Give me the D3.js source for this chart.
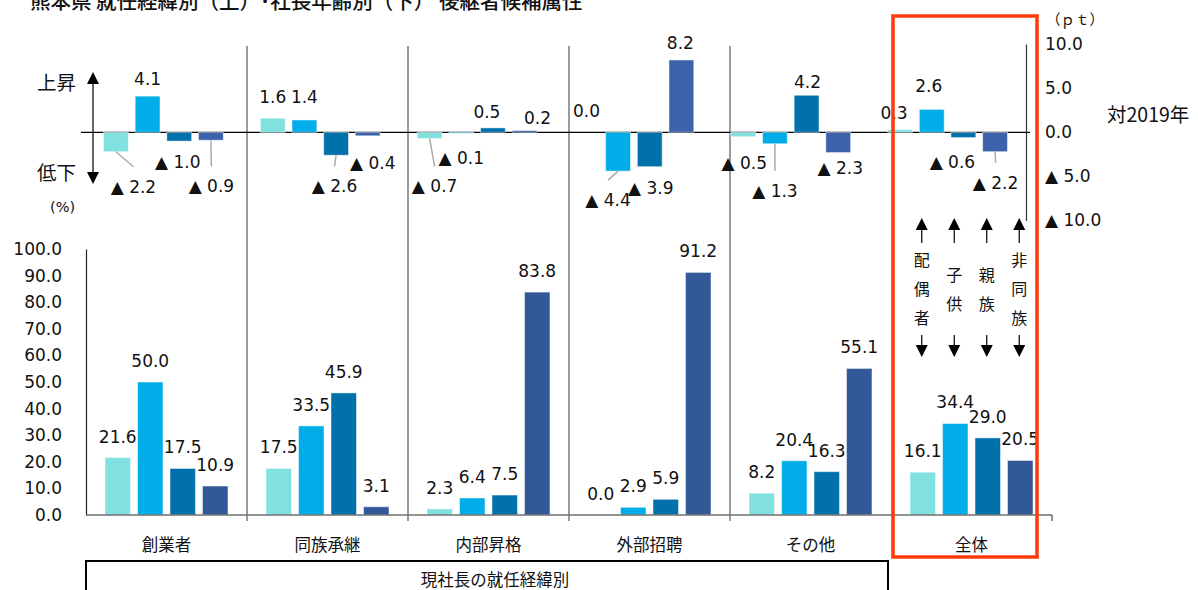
<!DOCTYPE html>
<html>
  <head>
    <meta charset="utf-8">
    <script type="text/javascript" src="https://d3js.org/d3.v7.min.js"></script>
  </head>
  <style>
    body { margin: 0; background: #fff; }
    svg { display: block; }
    text { font-family: "DejaVu Sans", "Noto Sans CJK JP", sans-serif; fill: #111; }
    .jp { font-family: "Noto Sans CJK JP", sans-serif; }
  </style>
  <body>
    <script type="text/javascript">
        var width = 1198,
            height = 590;

        // categories / series
        var categories = ["創業者", "同族承継", "内部昇格", "外部招聘", "その他", "全体"];
        var series = ["配偶者", "子供", "親族", "非同族"];

        // lower chart: share of successor candidates (%)
        var shareValues = [
            [21.6, 50.0, 17.5, 10.9],
            [17.5, 33.5, 45.9, 3.1],
            [2.3, 6.4, 7.5, 83.8],
            [0.0, 2.9, 5.9, 91.2],
            [8.2, 20.4, 16.3, 55.1],
            [16.1, 34.4, 29.0, 20.5]
        ];

        // upper chart: change vs 2019 (pt)
        var changeValues = [
            [-2.2, 4.1, -1.0, -0.9],
            [1.6, 1.4, -2.6, -0.4],
            [-0.7, -0.1, 0.5, 0.2],
            [0.0, -4.4, -3.9, 8.2],
            [-0.5, -1.3, 4.2, -2.3],
            [0.3, 2.6, -0.6, -2.2]
        ];

        var shareTicks = [0, 10, 20, 30, 40, 50, 60, 70, 80, 90, 100];
        var changeTicks = [10, 5, 0, -5, -10];

        // hand placement of the upper labels (dx, dy), like the original
        var changeLabelNudge = [
            [[17.5, 17], [0, 0], [-1.5, 3], [0.5, 28]],
            [[0, -4], [0, -6], [-1.5, 13], [5, 9]],
            [[5, 30], [0, 7], [-6, 1], [13, 4]],
            [[0, -4], [-10, 11], [1, 3], [-1, 0]],
            [[1, 8], [0, 29], [1, 4], [2, -3]],
            [[-6, 0], [-3, -6], [-11, 6], [0.5, 13]]
        ];

        var colorLo = d3.scaleOrdinal().domain(series).range(["#80E1DF", "#00ADE9", "#0071AB", "#325898"]);
        var colorUp = d3.scaleOrdinal().domain(series).range(["#80E1DF", "#00ADE9", "#0071AB", "#3D62AB"]);

        var fmt = d3.format(".1f");
        function ptFmt(v) {
            return v < 0 ? "▲ " + fmt(-v) : fmt(v);
        }

        var svg = d3.select("body").append("svg")
                    .attr("width", width)
                    .attr("height", height);

        // scales
        var xLo = d3.scaleBand().domain(categories).range([86, 1052]);
        var xUp = d3.scaleBand().domain(categories).range([85, 1026]);
        var xInLo = d3.scaleBand().domain(series).range([0, xLo.bandwidth()]).paddingInner(0.215).paddingOuter(0.585);
        var xInUp = d3.scaleBand().domain(series).range([0, xUp.bandwidth()]).paddingInner(0.215).paddingOuter(0.585);
        var yLo = d3.scaleLinear().domain([0, 100]).range([515, 249]);
        var yUp = d3.scaleLinear().domain([-10, 10]).range([220.5, 44.1]);

        // title (cut at the top, as in the picture)
        svg.append("text")
            .attr("class", "jp")
            .attr("x", 30)
            .attr("y", 9)
            .attr("font-size", 20.5)
            .attr("font-weight", 500)
            .attr("fill", "#222")
            .text("熊本県  就任経緯別（上）･社長年齢別（下） 後継者候補属性");

        // separators between categories
        svg.append("g")
            .selectAll("line")
            .data(categories.slice(1, 5))
            .enter()
            .append("line")
            .attr("x1", function(d) { return xLo(d); })
            .attr("x2", function(d) { return xLo(d); })
            .attr("y1", 46)
            .attr("y2", 521)
            .attr("stroke", "#7a7a7a")
            .attr("stroke-width", 1.5);

        // ---------- upper chart ----------
        svg.append("line")
            .attr("x1", 81).attr("x2", 1030)
            .attr("y1", yUp(0)).attr("y2", yUp(0))
            .attr("stroke", "#000").attr("stroke-width", 1.2);

        var upCells = [];
        changeValues.forEach(function(row, i) {
            row.forEach(function(v, j) {
                upCells.push({cat: categories[i], ser: series[j], v: v, nudge: changeLabelNudge[i][j]});
            });
        });

        var upBars = svg.append("g");
        upBars.selectAll("rect")
            .data(upCells)
            .enter()
            .append("rect")
            .attr("x", function(d) { return xUp(d.cat) + xInUp(d.ser); })
            .attr("width", xInUp.bandwidth())
            .attr("y", function(d) { return yUp(Math.max(0, d.v)); })
            .attr("height", function(d) { return Math.abs(yUp(d.v) - yUp(0)); })
            .attr("fill", function(d) { return colorUp(d.ser); })
            .attr("stroke", "#fff")
            .attr("stroke-opacity", 0.5);

        function upLabelPos(d) {
            var cx = xUp(d.cat) + xInUp(d.ser) + xInUp.bandwidth() / 2;
            var cy = d.v >= 0 ? yUp(d.v) - 17 : yUp(d.v) + 18;
            return [cx + d.nudge[0], cy + d.nudge[1]];
        }

        // leader lines
        upBars.selectAll("line")
            .data(upCells.filter(function(d) { return d.v < 0 && d.nudge[1] > 10; }))
            .enter()
            .append("line")
            .attr("x1", function(d) { return xUp(d.cat) + xInUp(d.ser) + xInUp.bandwidth() / 2; })
            .attr("y1", function(d) { return yUp(d.v); })
            .attr("x2", function(d) { return upLabelPos(d)[0]; })
            .attr("y2", function(d) { return upLabelPos(d)[1] - 20; })
            .attr("stroke", "#aaa")
            .attr("stroke-width", 1.5);

        upBars.selectAll("text")
            .data(upCells)
            .enter()
            .append("text")
            .attr("x", function(d) { return upLabelPos(d)[0]; })
            .attr("y", function(d) { return upLabelPos(d)[1] + 6; })
            .attr("text-anchor", "middle")
            .attr("font-size", 17)
            .text(function(d) { return ptFmt(d.v); });

        // right axis of the upper chart
        var axisUp = svg.append("g")
            .attr("transform", "translate(1026,0)")
            .call(d3.axisRight(yUp).tickValues(changeTicks).tickSize(0).tickPadding(19).tickFormat(ptFmt));
        axisUp.select(".domain").attr("stroke", "#333").attr("stroke-width", 1.2);
        axisUp.selectAll("text")
            .attr("font-family", "DejaVu Sans")
            .attr("font-size", 17)
            .attr("fill", "#111");

        svg.append("text")
            .attr("class", "jp")
            .attr("x", 1046).attr("y", 25)
            .attr("font-size", 14.5)
            .text("（ｐｔ）");

        svg.append("text")
            .attr("class", "jp")
            .attr("x", 1107).attr("y", 122)
            .attr("font-size", 19.5)
            .text("対2019年");

        // left up/down arrow
        var arr = svg.append("g").attr("fill", "#000").attr("stroke", "#000");
        arr.append("line").attr("x1", 93).attr("x2", 93).attr("y1", 80).attr("y2", 176).attr("stroke-width", 1.2);
        arr.append("path").attr("d", "M93,72 L99,84 L87,84 Z").attr("stroke", "none");
        arr.append("path").attr("d", "M93,184 L99,172 L87,172 Z").attr("stroke", "none");

        svg.append("text").attr("class", "jp").attr("x", 37).attr("y", 90).attr("font-size", 19.5).text("上昇");
        svg.append("text").attr("class", "jp").attr("x", 37).attr("y", 180).attr("font-size", 19.5).text("低下");
        svg.append("text").attr("x", 50).attr("y", 212).attr("font-size", 14.5).text("(%)");

        // ---------- lower chart ----------
        var loCells = [];
        shareValues.forEach(function(row, i) {
            row.forEach(function(v, j) {
                loCells.push({cat: categories[i], ser: series[j], v: v});
            });
        });

        var loBars = svg.append("g");
        loBars.selectAll("rect")
            .data(loCells)
            .enter()
            .append("rect")
            .attr("x", function(d) { return xLo(d.cat) + xInLo(d.ser); })
            .attr("width", xInLo.bandwidth())
            .attr("y", function(d) { return yLo(d.v); })
            .attr("height", function(d) { return yLo(0) - yLo(d.v); })
            .attr("fill", function(d) { return colorLo(d.ser); })
            .attr("stroke", "#fff")
            .attr("stroke-opacity", 0.5);

        loBars.selectAll("text")
            .data(loCells)
            .enter()
            .append("text")
            .attr("x", function(d) { return xLo(d.cat) + xInLo(d.ser) + xInLo.bandwidth() / 2; })
            .attr("y", function(d) { return yLo(d.v) - 15; })
            .attr("text-anchor", "middle")
            .attr("font-size", 17)
            .text(function(d) { return fmt(d.v); });

        // left axis
        var axisLo = svg.append("g")
            .attr("transform", "translate(86,0)")
            .call(d3.axisLeft(yLo).tickValues(shareTicks).tickSize(0).tickPadding(24).tickFormat(fmt));
        axisLo.select(".domain").attr("stroke", "#222").attr("stroke-width", 1.2);
        axisLo.selectAll("text")
            .attr("font-family", "DejaVu Sans")
            .attr("font-size", 17)
            .attr("fill", "#111");

        // baseline + category labels
        svg.append("line")
            .attr("x1", 86).attr("x2", 1052)
            .attr("y1", yLo(0)).attr("y2", yLo(0))
            .attr("stroke", "#6f6f6f").attr("stroke-width", 1.5);
        svg.append("line")
            .attr("x1", 1052).attr("x2", 1052)
            .attr("y1", yLo(0)).attr("y2", 521)
            .attr("stroke", "#6f6f6f").attr("stroke-width", 1.5);

        var axisCat = svg.append("g")
            .attr("transform", "translate(0," + yLo(0) + ")")
            .call(d3.axisBottom(xLo).tickSize(0).tickPadding(24));
        axisCat.select(".domain").remove();
        axisCat.selectAll("text")
            .attr("font-family", "Noto Sans CJK JP")
            .attr("font-size", 16.5)
            .attr("fill", "#111");

        // outer box for the first five categories
        svg.append("rect")
            .attr("x", 86).attr("y", 561)
            .attr("width", 802).attr("height", 50)
            .attr("fill", "none")
            .attr("stroke", "#000")
            .attr("stroke-width", 2);
        svg.append("text")
            .attr("class", "jp")
            .attr("x", 495).attr("y", 586)
            .attr("text-anchor", "middle")
            .attr("font-size", 16.5)
            .text("現社長の就任経緯別");

        // series legend inside the "全体" column: arrows + vertical names
        var leg = svg.append("g");
        series.forEach(function(s) {
            var cx = xLo("全体") + xInLo(s) + xInLo.bandwidth() / 2 - 1;
            leg.append("path").attr("d", "M" + cx + ",218 L" + (cx + 6) + ",230 L" + (cx - 6) + ",230 Z").attr("fill", "#000");
            leg.append("line").attr("x1", cx).attr("x2", cx).attr("y1", 229).attr("y2", 243).attr("stroke", "#000").attr("stroke-width", 1.2);
            leg.append("line").attr("x1", cx).attr("x2", cx).attr("y1", 335).attr("y2", 348).attr("stroke", "#000").attr("stroke-width", 1.2);
            leg.append("path").attr("d", "M" + cx + ",357 L" + (cx + 6) + ",345 L" + (cx - 6) + ",345 Z").attr("fill", "#000");
            var chars = s.split("");
            var start = 289 - (chars.length - 1) * 29 / 2;
            chars.forEach(function(c, k) {
                leg.append("text")
                    .attr("class", "jp")
                    .attr("x", cx)
                    .attr("y", start + k * 29 + 6)
                    .attr("text-anchor", "middle")
                    .attr("font-size", 16)
                    .text(c);
            });
        });

        // red highlight box
        svg.append("rect")
            .attr("x", 893).attr("y", 16)
            .attr("width", 144).attr("height", 541)
            .attr("fill", "none")
            .attr("stroke", "#FF3A0A")
            .attr("stroke-width", 3.5);
    </script>
  </body>
</html>
